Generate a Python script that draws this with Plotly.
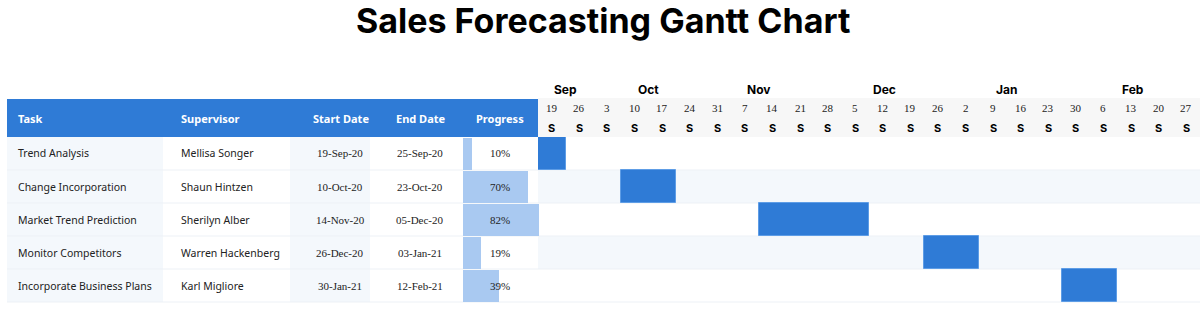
import plotly.graph_objects as go
import pandas as pd

# ---------------- data ----------------
tasks = ["Trend Analysis", "Change Incorporation", "Market Trend Prediction",
         "Monitor Competitors", "Incorporate Business Plans"]
supervisors = ["Mellisa Songer", "Shaun Hintzen", "Sherilyn Alber",
               "Warren Hackenberg", "Karl Migliore"]
start_dates = ["2020-09-19", "2020-10-10", "2020-11-14", "2020-12-26", "2021-01-30"]
end_dates = ["2020-09-25", "2020-10-23", "2020-12-05", "2021-01-03", "2021-02-12"]
progress = [0.10, 0.70, 0.82, 0.19, 0.39]

header_labels = ["Task", "Supervisor", "Start Date", "End Date", "Progress"]

week_starts = ["2020-09-19", "2020-09-26", "2020-10-03", "2020-10-10", "2020-10-17",
               "2020-10-24", "2020-10-31", "2020-11-07", "2020-11-14", "2020-11-21",
               "2020-11-28", "2020-12-05", "2020-12-12", "2020-12-19", "2020-12-26",
               "2021-01-02", "2021-01-09", "2021-01-16", "2021-01-23", "2021-01-30",
               "2021-02-06", "2021-02-13", "2021-02-20", "2021-02-27"]
weekday_labels = ["S"] * len(week_starts)
timeline_end = "2021-03-06"

month_labels = ["Sep", "Oct", "Nov", "Dec", "Jan", "Feb"]
month_label_dates = ["2020-09-26", "2020-10-17", "2020-11-14", "2020-12-16",
                     "2021-01-16", "2021-02-17"]

# ---------------- derived ----------------
ws = pd.to_datetime(week_starts)
t0 = ws[0]
sd = pd.to_datetime(start_dates)
ed = pd.to_datetime(end_dates)
idx_s = [(d - t0).days // 7 for d in sd]
idx_e = [(d - t0).days // 7 for d in ed]
bar_base = [(t0 + pd.Timedelta(days=7 * i)).strftime("%Y-%m-%d") for i in idx_s]
bar_len = [(b - a + 1) * 7 * 86400000 for a, b in zip(idx_s, idx_e)]
rows = list(range(len(tasks)))

# ---------------- layout helpers ----------------
W, H = 1200, 309
def px(x): return x / W
def py(y): return 1 - y / H

ROW_TOP, ROW_H = 137, 33
N = len(tasks)
ROW_BOT = ROW_TOP + ROW_H * N
TL_X0 = 538
BLUE = "#2F7BD6"
LIGHT = "#F4F8FC"
HEAVY = "Arial Black, Inter, Roboto, sans-serif"
SANS = "Noto Sans, Open Sans, sans-serif"
SERIF = "Liberation Serif, Times New Roman, serif"

fig = go.Figure()

fig.add_trace(go.Bar(
    orientation="h", y=rows, x=bar_len, base=bar_base, xaxis="x2", yaxis="y",
    width=1.0, marker=dict(color=BLUE, line=dict(color="#5E9DE6", width=1)),
    hoverinfo="skip", showlegend=False))

fig.add_trace(go.Bar(
    orientation="h", y=rows, x=progress, xaxis="x3", yaxis="y",
    width=0.97, marker=dict(color="#A9C9F1", line=dict(width=0)),
    hoverinfo="skip", showlegend=False))

shapes = []
# table column backgrounds
col_bounds = [(7, 163), (163, 290), (290, 370), (370, 447), (447, 538)]
col_bg = [LIGHT, "white", LIGHT, "white", "white"]
for (a, b), c in zip(col_bounds, col_bg):
    shapes.append(dict(type="rect", xref="paper", yref="paper", x0=px(a), x1=px(b),
                       y0=py(ROW_BOT), y1=py(ROW_TOP), fillcolor=c, line_width=0, layer="below"))
# timeline row stripes
for i in rows:
    if i % 2 == 1:
        shapes.append(dict(type="rect", xref="paper", yref="paper", x0=px(TL_X0), x1=1,
                           y0=py(ROW_TOP + ROW_H * (i + 1)), y1=py(ROW_TOP + ROW_H * i),
                           fillcolor=LIGHT, line_width=0, layer="below"))
# faint row lines
for i in range(1, N + 1):
    yy = py(ROW_TOP + ROW_H * i)
    shapes.append(dict(type="line", xref="paper", yref="paper", x0=px(7), x1=1,
                       y0=yy, y1=yy, line=dict(color="#EDF1F6", width=1), layer="below"))
# table header
shapes.append(dict(type="rect", xref="paper", yref="paper", x0=px(7), x1=px(TL_X0),
                   y0=py(ROW_TOP), y1=py(99), fillcolor=BLUE, line_width=0, layer="below"))
# timeline header
shapes.append(dict(type="rect", xref="paper", yref="paper", x0=px(TL_X0), x1=1,
                   y0=py(ROW_TOP), y1=py(98), fillcolor="#F7F7F7", line_width=0, layer="below"))

ann = []
ann.append(dict(text="<b>Sales Forecasting Gantt Chart</b>", xref="paper", yref="paper",
                x=px(603), y=py(20), showarrow=False, xanchor="center", yanchor="middle",
                borderpad=0,
                font=dict(family=HEAVY, size=34, color="black", weight=900)))

# header labels
hdr_x = [17, 180, 341, 421, 500]
hdr_anchor = ["left", "left", "center", "center", "center"]
for lab, x, an in zip(header_labels, hdr_x, hdr_anchor):
    ann.append(dict(text="<b>%s</b>" % lab, xref="paper", yref="paper", x=px(x), y=py(118),
                    showarrow=False, xanchor=an, yanchor="middle", borderpad=0,
                    font=dict(family=SANS, size=11, color="white")))

for i in rows:
    yc = py(ROW_TOP + ROW_H * i + ROW_H / 2)
    ann.append(dict(text=tasks[i], xref="paper", yref="paper", x=px(17), y=yc, showarrow=False,
                    xanchor="left", yanchor="middle", borderpad=0,
                    font=dict(family=SANS, size=10.5, color="#222")))
    ann.append(dict(text=supervisors[i], xref="paper", yref="paper", x=px(180), y=yc, showarrow=False,
                    xanchor="left", yanchor="middle", borderpad=0,
                    font=dict(family=SANS, size=10.5, color="#222")))
    ann.append(dict(text=sd[i].strftime("%d-%b-%y"), xref="paper", yref="paper", x=px(340), y=yc,
                    showarrow=False, xanchor="center", yanchor="middle",
                    font=dict(family=SERIF, size=11, color="#222")))
    ann.append(dict(text=ed[i].strftime("%d-%b-%y"), xref="paper", yref="paper", x=px(420), y=yc,
                    showarrow=False, xanchor="center", yanchor="middle",
                    font=dict(family=SERIF, size=11, color="#222")))
    ann.append(dict(text="%d%%" % round(progress[i] * 100), xref="paper", yref="paper", x=px(500), y=yc,
                    showarrow=False, xanchor="center", yanchor="middle",
                    font=dict(family=SERIF, size=11, color="#222")))

# timeline header texts
for d, dl in zip(ws, weekday_labels):
    xc = (d + pd.Timedelta(hours=84)).strftime("%Y-%m-%d %H:%M")
    ann.append(dict(text=str(d.day), xref="x2", yref="paper", x=xc, y=py(108), showarrow=False,
                    xanchor="center", yanchor="middle", font=dict(family=SERIF, size=11, color="#222")))
    ann.append(dict(text="<b>%s</b>" % dl, xref="x2", yref="paper", x=xc, y=py(128), showarrow=False,
                    xanchor="center", yanchor="middle",
                    font=dict(family=HEAVY, size=11, color="black", weight=900)))
for m, d in zip(month_labels, month_label_dates):
    ann.append(dict(text="<b>%s</b>" % m, xref="x2", yref="paper", x=d, y=py(89), showarrow=False,
                    xanchor="center", yanchor="middle",
                    font=dict(family=HEAVY, size=12, color="black", weight=900)))

fig.update_layout(
    width=W, height=H, margin=dict(l=0, r=0, t=0, b=0),
    paper_bgcolor="white", plot_bgcolor="rgba(0,0,0,0)",
    bargap=0, barmode="overlay",
    shapes=shapes, annotations=ann,
    xaxis=dict(visible=False, domain=[0, 0.01]),
    xaxis2=dict(type="date", domain=[px(TL_X0), 1], range=[week_starts[0], timeline_end],
                anchor="y", visible=False, fixedrange=True),
    xaxis3=dict(domain=[px(463), px(556)], range=[0, 1], anchor="y", visible=False),
    yaxis=dict(domain=[py(ROW_BOT), py(ROW_TOP)], range=[N - 0.5, -0.5], anchor="x2",
               visible=False),
)

fig.write_html("out.html")
